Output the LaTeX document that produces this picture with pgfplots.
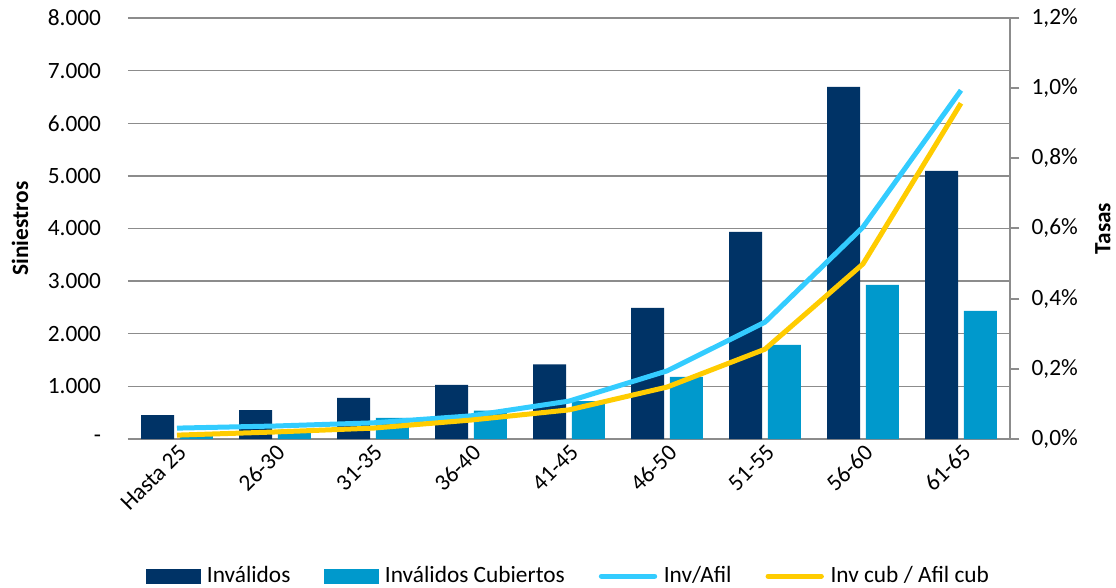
\documentclass[border=0pt]{standalone}
\usepackage{fontspec}
\setmainfont{Carlito}
\usepackage{pgfplots}
\pgfplotsset{compat=1.18}
\definecolor{navy}{RGB}{0,51,102}
\definecolor{cyanbar}{RGB}{0,153,204}
\definecolor{skyline}{RGB}{51,204,255}
\definecolor{gold}{RGB}{255,204,0}
\definecolor{gridgray}{RGB}{140,140,140}
\newcommand{\chf}{\fontsize{17.5}{21}\selectfont}
\begin{document}
\chf
\begin{tikzpicture}
\useasboundingbox (-96pt,-111.75pt) rectangle (741pt,329.25pt);
\begin{axis}[
  at={(0,0)}, anchor=south west,
  scale only axis, width=661.5pt, height=315.75pt,
  xmin=-0.5, xmax=8.5, ymin=0, ymax=8000,
  axis x line*=bottom, axis y line*=left,
  y axis line style={draw=none},
  x axis line style={gridgray, line width=1.5pt, -},
  xtick style={draw=none}, ytick style={draw=none},
  ymajorgrids, grid style={gridgray, line width=1.1pt},
  ytick={0,1000,2000,3000,4000,5000,6000,7000,8000},
  yticklabels={-,1.000,2.000,3.000,4.000,5.000,6.000,7.000,8.000},
  xtick={0,1,2,3,4,5,6,7,8},
  xticklabels={Hasta 25,26-30,31-35,36-40,41-45,46-50,51-55,56-60,61-65},
  xticklabel style={font=\chf, rotate=45, anchor=north east, inner sep=2pt},
  yticklabel style={font=\chf, anchor=east, inner sep=0pt, xshift=-20pt},
  ylabel={\textbf{Siniestros}},
  ylabel style={font=\chf, at={(axis description cs:-0.1224,0.5)}, anchor=center},
  clip=false,
]
\addplot[ybar, bar width=24.75pt, bar shift=-14.6pt, fill=navy, draw=none]
  coordinates {(0,456) (1,551) (2,780) (3,1027) (4,1420) (5,2490) (6,3935) (7,6692) (8,5095)};
\addplot[ybar, bar width=24.75pt, bar shift=14.6pt, fill=cyanbar, draw=none]
  coordinates {(0,70) (1,180) (2,400) (3,540) (4,720) (5,1180) (6,1787) (7,2928) (8,2433)};
\end{axis}
\begin{axis}[
  at={(0,0)}, anchor=south west,
  scale only axis, width=661.5pt, height=315.75pt,
  xmin=-0.5, xmax=8.5, ymin=0, ymax=1.2,
  axis x line=none, axis y line*=right,
  y axis line style={gridgray, line width=1.5pt, -},
  ytick style={gridgray, line width=1.5pt},
  tick align=outside, major tick length=7pt,
  ytick={0,0.2,0.4,0.6,0.8,1.0,1.2},
  yticklabels={0\hbox{,}0\%,0\hbox{,}2\%,0\hbox{,}4\%,0\hbox{,}6\%,0\hbox{,}8\%,1\hbox{,}0\%,1\hbox{,}2\%},
  yticklabel style={font=\chf, anchor=west, inner sep=0pt, xshift=9pt},
  ylabel={\textbf{Tasas}},
  ylabel style={font=\chf, at={(axis description cs:1.1054,0.5)}, anchor=center, rotate=0},
  legend style={at={(0.5,-0.326)}, anchor=center, draw=none, fill=none,
    legend columns=4, font=\chf, inner sep=0pt,
    /tikz/every even column/.append style={column sep=23.5pt},
    nodes={inner sep=2pt}},
  legend image code/.code={\draw[#1, line cap=round] (0pt,0pt) -- (40pt,0pt); \path (43pt,0pt);},
  clip=false,
]
\addlegendimage{legend image code/.code={\fill[navy] (0pt,-5.6pt) rectangle (40pt,5.6pt); \path (43pt,0pt);}}
\addlegendimage{legend image code/.code={\fill[cyanbar] (0pt,-5.6pt) rectangle (40pt,5.6pt); \path (43pt,0pt);}}
\addplot[skyline, line width=3.75pt, line join=round, mark=none]
  coordinates {(0,0.031) (1,0.037) (2,0.046) (3,0.066) (4,0.108) (5,0.194) (6,0.333) (7,0.604) (8,0.994)};
\addplot[gold, line width=3.75pt, line join=round, mark=none]
  coordinates {(0,0.011) (1,0.020) (2,0.031) (3,0.054) (4,0.083) (5,0.148) (6,0.256) (7,0.499) (8,0.957)};
\legend{Inválidos,Inválidos Cubiertos,Inv/Afil,Inv cub / Afil cub}
\end{axis}
\end{tikzpicture}
\end{document}
